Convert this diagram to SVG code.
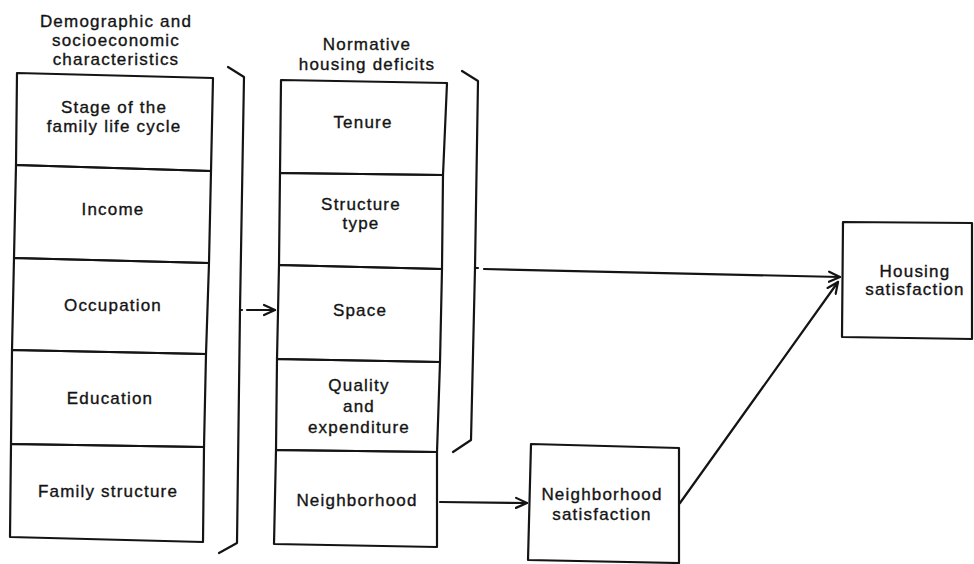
<svg xmlns="http://www.w3.org/2000/svg" width="974" height="564" viewBox="0 0 974 564">
<style>
.ln{fill:none;stroke:#141414;stroke-width:2.2;stroke-linecap:round;stroke-linejoin:round}
.t{font-family:"Liberation Sans",Arial,sans-serif;font-size:17px;letter-spacing:1.2px;fill:#141414;stroke:#141414;stroke-width:0.35;text-anchor:middle}
</style>
<defs>
<marker id="ah" markerUnits="userSpaceOnUse" markerWidth="14" markerHeight="14" refX="12" refY="6" orient="auto" viewBox="0 0 14 12">
<path d="M1,1 L12,6 L1,11" fill="none" stroke="#141414" stroke-width="2.2" stroke-linecap="round" stroke-linejoin="round"/>
</marker>
</defs>
<rect width="974" height="564" fill="#ffffff"/>

<g id="demographic-header">
<text class="t" x="116" y="27">Demographic and</text>
<text class="t" x="116" y="46">socioeconomic</text>
<text class="t" x="116" y="65">characteristics</text>
</g>
<g id="normative-header">
<text class="t" x="367" y="50">Normative</text>
<text class="t" x="367" y="70">housing deficits</text>
</g>

<g id="stage">
<path class="ln" d="M17,73 L213,78 L211,171 L16,165 Z"/>
<text class="t" x="114" y="113">Stage of the</text>
<text class="t" x="114" y="132">family life cycle</text>
</g>
<g id="income">
<path class="ln" d="M16,165 L211,171 L209,263 L14,258 Z"/>
<text class="t" x="113" y="215">Income</text>
</g>
<g id="occupation">
<path class="ln" d="M14,258 L209,263 L206,354 L12,350 Z"/>
<text class="t" x="113" y="311">Occupation</text>
</g>
<g id="education">
<path class="ln" d="M12,350 L206,354 L204,447 L11,444 Z"/>
<text class="t" x="110" y="404">Education</text>
</g>
<g id="family-structure">
<path class="ln" d="M11,444 L204,447 L203,542 L10,537 Z"/>
<text class="t" x="108" y="497">Family structure</text>
</g>

<g id="tenure">
<path class="ln" d="M281,80 L447,83 L443,175 L280,173 Z"/>
<text class="t" x="363" y="128">Tenure</text>
</g>
<g id="structure-type">
<path class="ln" d="M280,173 L443,175 L442,269 L279,265 Z"/>
<text class="t" x="361" y="210">Structure</text>
<text class="t" x="361" y="229">type</text>
</g>
<g id="space">
<path class="ln" d="M279,265 L442,269 L440,362 L277,359 Z"/>
<text class="t" x="360" y="316">Space</text>
</g>
<g id="quality">
<path class="ln" d="M277,359 L440,362 L437,452 L276,450 Z"/>
<text class="t" x="359" y="391">Quality</text>
<text class="t" x="359" y="412">and</text>
<text class="t" x="359" y="433">expenditure</text>
</g>
<g id="neighborhood">
<path class="ln" d="M276,450 L437,452 L437,547 L274,544 Z"/>
<text class="t" x="357" y="506">Neighborhood</text>
</g>

<g id="neighborhood-satisfaction">
<path class="ln" d="M531,444 L679,448 L679,563 L528,560 Z"/>
<text class="t" x="602" y="500">Neighborhood</text>
<text class="t" x="602" y="520">satisfaction</text>
</g>
<g id="housing-satisfaction">
<path class="ln" d="M843,222 L972,223 L972,339 L842,337 Z"/>
<text class="t" x="915" y="277">Housing</text>
<text class="t" x="915" y="295">satisfaction</text>
</g>

<g id="connectors">
<path class="ln" d="M228,67 L244,77 L240,310 L237,543 L219,553"/>
<path class="ln" d="M240,310 L242,310"/>
<path class="ln" d="M462,71 L478,81 L475,268 L471,440 L453,452"/>
<path class="ln" d="M475,268 L478,268"/>
<line class="ln" x1="247" y1="310" x2="275" y2="310" marker-end="url(#ah)"/>
<line class="ln" x1="484" y1="269" x2="840" y2="277" marker-end="url(#ah)"/>
<line class="ln" x1="440" y1="502" x2="527" y2="503" marker-end="url(#ah)"/>
<line class="ln" x1="680" y1="503" x2="838" y2="282" marker-end="url(#ah)"/>
</g>
</svg>
